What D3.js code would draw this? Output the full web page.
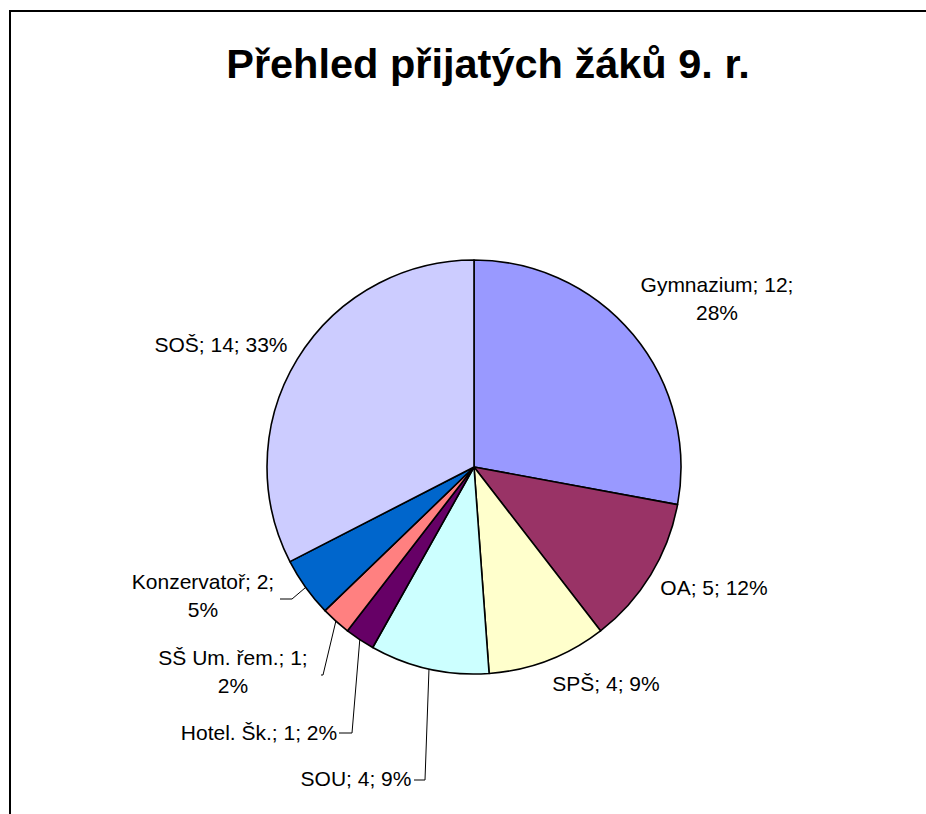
<!DOCTYPE html>
<html><head><meta charset="utf-8">
<script src="https://cdn.jsdelivr.net/npm/d3@7"></script>
<style>
html,body{margin:0;padding:0;background:#fff;overflow:hidden;width:926px;height:814px;}
#wrap{position:relative;width:926px;height:814px;overflow:hidden;}
#frame{position:absolute;left:9px;top:10px;width:1000px;height:1000px;border-top:2px solid #000;border-left:2px solid #000;}
svg{position:absolute;left:0;top:0;display:block;}
</style>
</head><body>
<div id="wrap"><div id="frame"></div></div>
<script>
const title = "Přehled přijatých žáků 9. r.";
const categories = ["Gymnazium", "OA", "SPŠ", "SOU", "Hotel. Šk.", "SŠ Um. řem.", "Konzervatoř", "SOŠ"];
const values = [12, 5, 4, 4, 1, 1, 2, 14];
const colors = ["#9999FF", "#993366", "#FFFFCC", "#CCFFFF", "#660066", "#FF8080", "#0066CC", "#CCCCFF"];

// label layout (text centres, line breaks, leader elbows)
const labelLayout = [
  {x: 717, y: 285, split: 2, leader: null},
  {x: 714, y: 588, split: 0, leader: null},
  {x: 606, y: 684, split: 0, leader: null},
  {x: 356, y: 779, split: 0, leader: {elbow: [425, 780], end: [414, 780]}},
  {x: 259, y: 733, split: 0, leader: {elbow: [352, 733], end: [339, 733]}},
  {x: 233, y: 658, split: 2, leader: {elbow: [323, 675], end: [321, 675]}},
  {x: 203, y: 582, split: 2, leader: {elbow: [292, 599], end: [280, 599]}},
  {x: 221, y: 345, split: 0, leader: null}
];

const W = 926, H = 814;
const cx = 474, cy = 467, R = 207;
const svg = d3.select("#wrap").append("svg").attr("width", W).attr("height", H);

svg.append("text").attr("x", 488).attr("y", 78).attr("text-anchor", "middle")
  .attr("font-family", "Liberation Sans, Arial, sans-serif").attr("font-weight", "bold")
  .attr("font-size", 41.5).text(title);

const total = d3.sum(values);
const data = categories.map((c, i) => ({name: c, value: values[i], color: colors[i], layout: labelLayout[i]}));
const pie = d3.pie().value(d => d.value).sort(null);
const arcs = pie(data);
const arc = d3.arc().innerRadius(0).outerRadius(R);
const g = svg.append("g").attr("transform", `translate(${cx},${cy})`);
g.selectAll("path").data(arcs).join("path")
  .attr("d", arc).attr("fill", d => d.data.color)
  .attr("stroke", "#000").attr("stroke-width", 1.6).attr("stroke-linejoin", "round");

const font = "Liberation Sans, Arial, sans-serif";
arcs.forEach(a => {
  const L = a.data.layout;
  const pct = Math.round(a.data.value / total * 100) + "%";
  const parts = [a.data.name + ";", a.data.value + ";", pct];
  let lines;
  if (L.split === 2) lines = [parts.slice(0, 2).join(" "), parts[2]];
  else lines = [parts.join(" ")];
  const t = svg.append("text").attr("text-anchor", "middle").attr("font-family", font)
    .attr("font-size", 21).attr("fill", "#000");
  lines.forEach((ln, k) => {
    t.append("tspan").attr("x", L.x).attr("y", L.y + k * 28).attr("dy", "0.35em").text(ln);
  });
  if (L.leader) {
    const mid = (a.startAngle + a.endAngle) / 2;
    const px = cx + R * Math.sin(mid), py = cy - R * Math.cos(mid);
    svg.append("polyline")
      .attr("points", [[px, py], L.leader.elbow, L.leader.end].map(p => p.join(",")).join(" "))
      .attr("fill", "none").attr("stroke", "#000").attr("stroke-width", 1);
  }
});
</script>
</body></html>
